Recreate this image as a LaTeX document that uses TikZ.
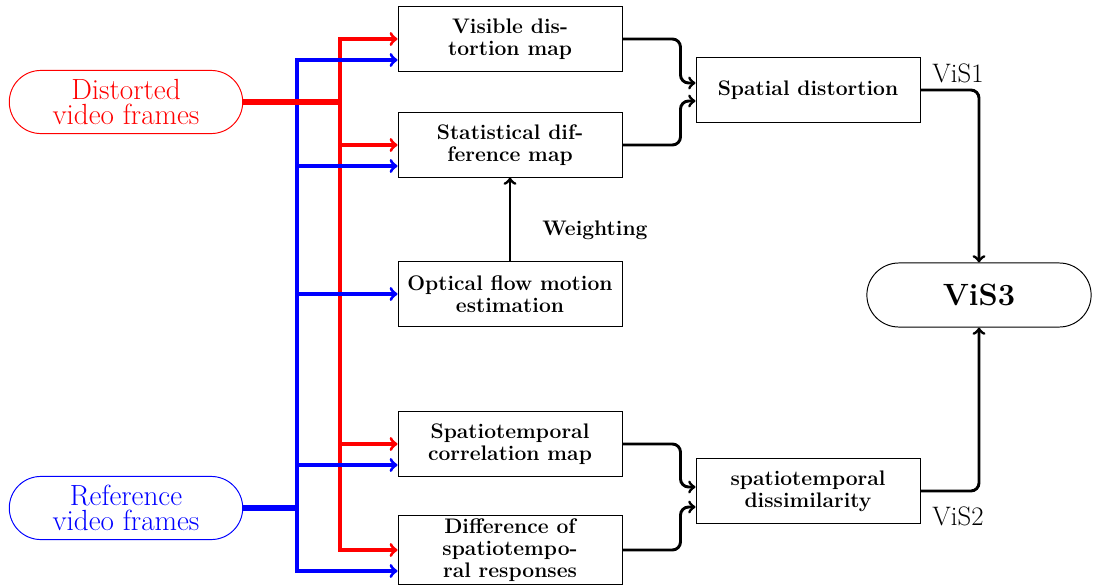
\documentclass[tikz,border=0pt]{standalone}
\usetikzlibrary{shapes.misc,calc}

\tikzset{
	procbox/.style={draw, line width=0.6pt, minimum width=4.86cm, minimum height=1.39cm, inner sep=2pt, align=center, font=\fontsize{13}{13.6}\selectfont\bfseries},
	inpill/.style={rounded rectangle, draw, line width=0.6pt, minimum width=5.3cm, minimum height=1.37cm, align=center, font=\fontsize{18}{15}\selectfont},
	outpill/.style={rounded rectangle, draw, line width=0.6pt, minimum width=5.1cm, minimum height=1.39cm, font=\fontsize{19}{20}\selectfont\bfseries},
	vislabel/.style={font=\fontsize{16.5}{18}\selectfont},
	redtrunk/.style={red, line width=3.2pt},
	bluetrunk/.style={blue, line width=3.2pt},
	redbranch/.style={red, line width=2pt, ->},
	bluebranch/.style={blue, line width=2pt, ->},
	merge/.style={line width=1.8pt, ->, rounded corners=5pt}
}

\begin{document}
\begin{tikzpicture}[x=0.0217cm, y=-0.0217cm]
	\useasboundingbox (0,0) rectangle (1093,586);
	
	\node[inpill, red] (dist) at (126,102) {Distorted\\video frames};
	\node[inpill, blue] (ref) at (126,508) {Reference\\video frames};
	
	\node[procbox] (vdm) at (510,39) {Visible dis-\\tortion map};
	\node[procbox] (sdm) at (510,145) {Statistical dif-\\ference map};
	\node[procbox] (flow) at (510,294) {Optical flow motion\\estimation};
	\node[procbox] (scm) at (510,444) {Spatiotemporal\\correlation map};
	\node[procbox] (dsr) at (510,550) {Difference of\\spatiotempo-\\ral responses};
	
	\node[procbox] (spat) at (808,90) {Spatial distortion};
	\node[procbox] (stdis) at (808,491) {spatiotemporal\\dissimilarity};
	\node[outpill] (vis3) at (979,295) {ViS3};
	
	\coordinate (rsplit) at (340,102);
	\coordinate (bsplit) at (297,508);
	
	% inputs to the maps
	\foreach \n in {vdm,sdm,scm,dsr}
		\draw[redbranch] (rsplit) |- (\n.west);
	\draw[bluebranch] (bsplit) |- (flow.west);
	\foreach \n in {vdm,sdm,scm,dsr}
		\draw[bluebranch] (bsplit) |- ($(\n.west)+(0,21)$);
	\draw[bluetrunk] (ref.east) -- (bsplit);
	\draw[redtrunk] (dist.east) -- (rsplit);
	
	% maps to the two scores
	\foreach \s/\d/\o in {vdm/spat/-7, sdm/spat/11, scm/stdis/-4, dsr/stdis/16}
		\draw[merge] (\s.east) -- ++(58,0) |- ($(\d.west)+(0,\o)$);
	\draw[merge] (flow.north) -- (sdm.south);
	\node[font=\fontsize{13}{13.6}\selectfont\bfseries] (wlab) at (595,230) {Weighting};
	
	\draw[merge] (spat.east) -| (vis3.north);
	\draw[merge] (stdis.east) -| (vis3.south);
	\node[vislabel] (vis1) at (958,73) {ViS1};
	\node[vislabel] (vis2) at (958,516) {ViS2};
\end{tikzpicture}
\end{document}
